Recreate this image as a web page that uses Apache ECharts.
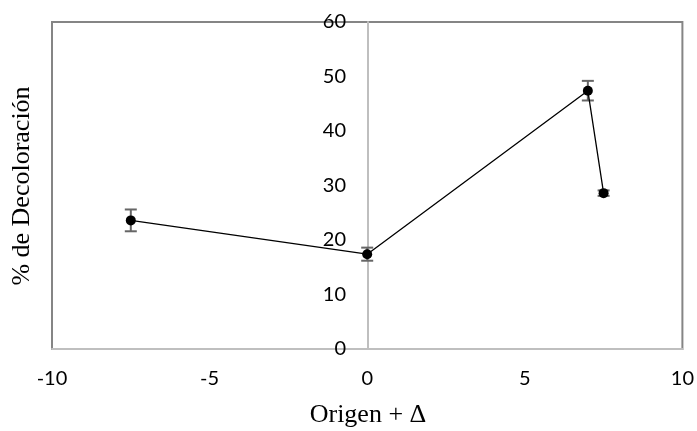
<!DOCTYPE html>
<html>
<head>
<meta charset="utf-8">
<script src="https://cdn.jsdelivr.net/npm/echarts@6/dist/echarts.min.js"></script>
<style>html,body{margin:0;padding:0;background:#fff;}#c{width:697px;height:431px;}</style>
</head>
<body>
<div id="c"></div>
<script>
var xValues = [-7.5, 0, 7, 7.5];
var yValues = [23.6, 17.4, 47.4, 28.6];
var errors = [2.0, 1.2, 1.8, 0.5];
var xTicks = [-10, -5, 0, 5, 10];
var yTicks = [0, 10, 20, 30, 40, 50, 60];
var xTitle = 'Origen + Δ';
var yTitle = '% de Decoloración';

var lineData = xValues.map(function (x, i) { return [x, yValues[i]]; });
var errData = xValues.map(function (x, i) { return [x, yValues[i] - errors[i], yValues[i] + errors[i]]; });

var chart = echarts.init(document.getElementById('c'));
chart.setOption({
  animation: false,
  grid: { left: 52, right: 13, top: 22, bottom: 82, show: true, borderColor: '#858585', borderWidth: 2, backgroundColor: '#fff' },
  xAxis: {
    type: 'value', min: xTicks[0], max: xTicks[xTicks.length - 1], interval: 5,
    axisLine: { show: true, onZero: false, lineStyle: { color: '#bfbfbf', width: 2 } },
    axisTick: { show: false },
    splitLine: { show: false },
    axisLabel: { margin: 20, fontFamily: 'Lato', fontSize: 20, color: '#000' }
  },
  yAxis: {
    type: 'value', min: yTicks[0], max: yTicks[yTicks.length - 1], interval: 10,
    offset: -316,
    axisLine: { show: true, onZero: false, lineStyle: { color: '#bfbfbf', width: 2 } },
    axisTick: { show: false },
    splitLine: { show: false },
    axisLabel: { margin: 22, fontFamily: 'Lato', fontSize: 20, color: '#000' }
  },
  graphic: [
    { type: 'text', x: 368, y: 402, style: { text: xTitle, font: '26px "Liberation Serif"', fill: '#000', align: 'center', verticalAlign: 'top' } },
    { type: 'text', x: 9, y: 186, rotation: Math.PI / 2, style: { text: yTitle, font: '26px "Liberation Serif"', fill: '#000', align: 'center', verticalAlign: 'top' } }
  ],
  series: [
    {
      type: 'custom',
      data: errData,
      z: 1,
      renderItem: function (params, api) {
        var x = api.value(0);
        var lo = api.coord([x, api.value(1)]);
        var hi = api.coord([x, api.value(2)]);
        var w = 6;
        var st = { stroke: '#666666', lineWidth: 2 };
        return {
          type: 'group',
          children: [
            { type: 'line', shape: { x1: lo[0], y1: lo[1], x2: hi[0], y2: hi[1] }, style: st },
            { type: 'line', shape: { x1: lo[0] - w, y1: lo[1], x2: lo[0] + w, y2: lo[1] }, style: st },
            { type: 'line', shape: { x1: hi[0] - w, y1: hi[1], x2: hi[0] + w, y2: hi[1] }, style: st }
          ]
        };
      }
    },
    {
      type: 'line',
      data: lineData,
      z: 2,
      symbol: 'circle',
      symbolSize: 10,
      lineStyle: { color: '#000', width: 1.3 },
      itemStyle: { color: '#000' }
    }
  ]
});
</script>
</body>
</html>
